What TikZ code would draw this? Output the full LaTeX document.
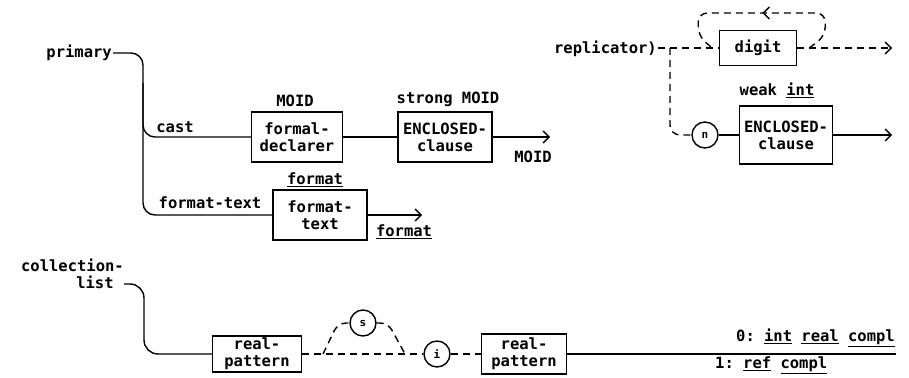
\documentclass[tikz,border=0pt]{standalone}
\usepackage{fontspec}
\setmonofont{DejaVu Sans Mono}
\usetikzlibrary{arrows.meta,decorations.markings}

\begin{document}
\begin{tikzpicture}[
    x=1pt, y=-1pt,
    box node/.style={draw=black, line width=1.4pt, inner sep=1pt, align=center, font=\ttfamily\bfseries\fontsize{15.5}{17}\selectfont},
    circ node/.style={circle, draw=black, line width=1.4pt, inner sep=0pt, minimum size=26pt, font=\ttfamily\bfseries\fontsize{11}{12}\selectfont},
    lab node/.style={inner sep=1pt, align=center, font=\ttfamily\bfseries\fontsize{15.5}{12}\selectfont},
    main edge/.style={line width=1.4pt},
    opt edge/.style={line width=1.4pt, dash pattern=on 7pt off 5pt},
    out arrow/.style={-{Straight Barb[length=6pt,width=12pt]}}
]
\useasboundingbox (0,0) rectangle (909,377);

% primary -> cast | format-text
\node[lab node, anchor=east] (primary) at (113,53) {primary};
\node[box node, minimum width=91pt, minimum height=50pt] (fdecl) at (297,137) {formal-\\declarer};
\node[box node, minimum width=94pt, minimum height=50pt] (encl1) at (445,137) {ENCLOSED-\\clause};
\node[box node, minimum width=94pt, minimum height=50pt] (ftext) at (320,215) {format-\\text};
\coordinate (ptrunk) at (143,53);
\coordinate (out1) at (550,137);
\coordinate (out2) at (422,215);

\node[lab node] (castlab)  at (175,127) {cast};
\node[lab node] (moid1)    at (295,101) {MOID};
\node[lab node] (moid2)    at (448,99)  {strong MOID};
\node[lab node] (moid3)    at (533,157) {MOID};
\node[lab node] (ftlab)    at (210,203) {format-text};
\node[lab node] (fmt1)     at (315,180) {\underline{format}};
\node[lab node] (fmt2)     at (404,232) {\underline{format}};

\draw[main edge, rounded corners=12pt] (primary.east) -- (ptrunk) |- (ftext.west);
\draw[main edge, rounded corners=12pt] (ptrunk) ++(0,30) |- (fdecl.west);
\draw[main edge] (fdecl) -- (encl1);
\draw[main edge, out arrow] (encl1.east) -- (out1);
\draw[main edge, out arrow] (ftext.east) -- (out2);

% replicator
\node[lab node, anchor=east] (repl) at (658,49) {replicator)};
\node[box node, minimum width=77pt, minimum height=35pt] (digit) at (758,48) {digit};
\node[circ node] (ncirc) at (705,135) {n};
\node[box node, minimum width=93pt, minimum height=58pt] (encl2) at (786,135) {ENCLOSED-\\clause};
\node[lab node] (weak) at (777,90) {weak \underline{int}};
\coordinate (rsplit) at (670,48);
\coordinate (out3) at (892,48);
\coordinate (out4) at (892,135);

\draw[opt edge] (repl.east |- rsplit) -- (digit.west);
\draw[opt edge, out arrow] (digit.east) -- (out3);
\draw[opt edge, rounded corners=10pt] (rsplit) |- (ncirc.west);
\draw[opt edge, rounded corners=9pt,
      postaction={decorate, decoration={markings, mark=at position 0.5 with {\arrow{Straight Barb[length=6pt,width=12pt]}}}}]
    ([xshift=12pt]digit.east) -- ++(16,-12) -- ++(0,-23) -- ++(-127,0) -- ++(0,23) -- ++(14,12);
\draw[main edge] (ncirc) -- (encl2);
\draw[main edge, out arrow] (encl2.east) -- (out4);

% collection-list
\node[lab node, anchor=east, inner sep=0pt] (colist) at (124,265) {collection-};
\node[lab node, inner sep=0pt] (colist2) at (95,282) {list};
\node[box node, minimum width=89pt, minimum height=36pt] (rp1) at (257,354) {real-\\pattern};
\node[circ node] (scirc) at (363,323) {s};
\node[circ node] (icirc) at (437,354) {i};
\node[box node, minimum width=85pt, minimum height=40pt] (rp2) at (524,354) {real-\\pattern};
\coordinate (ctrunk) at (144,284);
\coordinate (humpl) at (323,354);
\coordinate (humpr) at (405,354);
\coordinate (endline) at (896,354);

\draw[main edge, rounded corners=14pt] (ctrunk -| colist.east) -- (ctrunk) |- (rp1.west);
\draw[opt edge] (rp1.east) -- (icirc.west);
\draw[opt edge, rounded corners=8pt] (humpl) -- (338,323) -- (scirc.west);
\draw[opt edge, rounded corners=8pt] (scirc.east) -- (388,323) -- (humpr);
\draw[opt edge] (icirc.east) -- (rp2.west);
\draw[main edge] (rp2.east) -- (endline);

\node[lab node, anchor=east] (modes0) at (896,338) {0: \underline{int} \underline{real} \underline{compl}};
\node[lab node, anchor=west] (modes1) at (714,365) {1: \underline{ref} \underline{compl}};

\end{tikzpicture}
\end{document}
